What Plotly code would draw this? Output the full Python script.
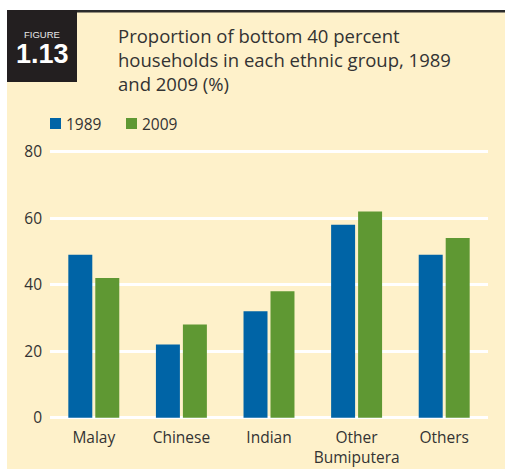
import plotly.graph_objects as go

categories = ["Malay", "Chinese", "Indian", "Other<br>Bumiputera", "Others"]
series_names = ["1989", "2009"]
values_1989 = [49, 22, 32, 58, 49]
values_2009 = [42, 28, 38, 62, 54]
y_ticks = [0, 20, 40, 60, 80]

BLUE = "#0064A6"
GREEN = "#5F9833"
BEIGE = "#FEF1CA"
DARK = "#2B2B2B"
TEXT = "#333333"
FONT = "Open Sans"

W, H = 505, 469
# plot area in window coordinates: x 50..488, y 145..421
L, R, T, B = 50, 505 - 488, 145, 469 - 421
PW, PH = W - L - R, H - T - B


def px(x):
    return (x - L) / PW


def py(y):
    return (H - B - y) / PH


fig = go.Figure()
for name, vals, col in [(series_names[0], values_1989, BLUE), (series_names[1], values_2009, GREEN)]:
    fig.add_trace(go.Bar(x=categories, y=vals, name=name, marker=dict(color=col, line=dict(width=0)),
                         showlegend=False))

shapes = [
    # white page margin above and left of the beige panel
    dict(type="rect", xref="paper", yref="paper", x0=px(-5), x1=px(7), y0=py(-5), y1=py(480),
         fillcolor="white", line=dict(width=0), layer="below"),
    dict(type="rect", xref="paper", yref="paper", x0=px(-5), x1=px(510), y0=py(-5), y1=py(10),
         fillcolor="white", line=dict(width=0), layer="below"),
    dict(type="rect", xref="paper", yref="paper", x0=px(77), x1=px(510), y0=py(10), y1=py(12.5),
         fillcolor=DARK, line=dict(width=0), layer="below"),
    dict(type="rect", xref="paper", yref="paper", x0=px(7), x1=px(77), y0=py(10), y1=py(82),
         fillcolor="#231F20", line=dict(width=0), layer="below"),
    dict(type="rect", xref="paper", yref="paper", x0=px(50), x1=px(61), y0=py(118), y1=py(129),
         fillcolor=BLUE, line=dict(width=0)),
    dict(type="rect", xref="paper", yref="paper", x0=px(126), x1=px(137), y0=py(118), y1=py(129),
         fillcolor=GREEN, line=dict(width=0)),
]

annotations = [
    dict(text="FIGURE", xref="paper", yref="paper", x=px(42), y=py(34), xanchor="center", yanchor="middle",
         showarrow=False, font=dict(family="Liberation Sans", size=9.5, color="#E8E8E8")),
    dict(text="<b>1.13</b>", xref="paper", yref="paper", x=px(42), y=py(54), xanchor="center", yanchor="middle",
         showarrow=False, font=dict(family="Liberation Sans", size=27, color="white")),
    dict(text="Proportion of bottom 40 percent<br>households in each ethnic group, 1989<br>and 2009 (%)",
         xref="paper", yref="paper", x=px(116), y=py(21), xanchor="left", yanchor="top", align="left",
         showarrow=False, font=dict(family=FONT, size=18.5, color=TEXT)),
    dict(text=series_names[0], xref="paper", yref="paper", x=px(64), y=py(123.5), xanchor="left",
         yanchor="middle", showarrow=False, font=dict(family=FONT, size=15.5, color=TEXT)),
    dict(text=series_names[1], xref="paper", yref="paper", x=px(140), y=py(123.5), xanchor="left",
         yanchor="middle", showarrow=False, font=dict(family=FONT, size=15.5, color=TEXT)),
]

fig.update_layout(
    width=W, height=H,
    margin=dict(l=L, r=R, t=T, b=B, pad=0, autoexpand=False),
    paper_bgcolor=BEIGE,
    plot_bgcolor="rgba(0,0,0,0)",
    barmode="group", bargap=0.384, bargroupgap=0.111,
    shapes=shapes, annotations=annotations,
    font=dict(family=FONT, size=15.5, color=TEXT),
    xaxis=dict(showgrid=False, showline=False, ticks="", tickfont=dict(size=15.5, color=TEXT),
               ticklabelstandoff=5, automargin=False),
    yaxis=dict(range=[-1, 82], tickvals=y_ticks, showgrid=True, gridcolor="white", gridwidth=2.5,
               zeroline=False, showline=False, ticks="", tickfont=dict(size=15.5, color=TEXT),
               ticklabelstandoff=7, automargin=False),
)

fig.write_html(
    "out.html",
    config={"displayModeBar": False},
    post_script="document.body.style.margin='0';document.body.style.overflow='hidden';",
)
